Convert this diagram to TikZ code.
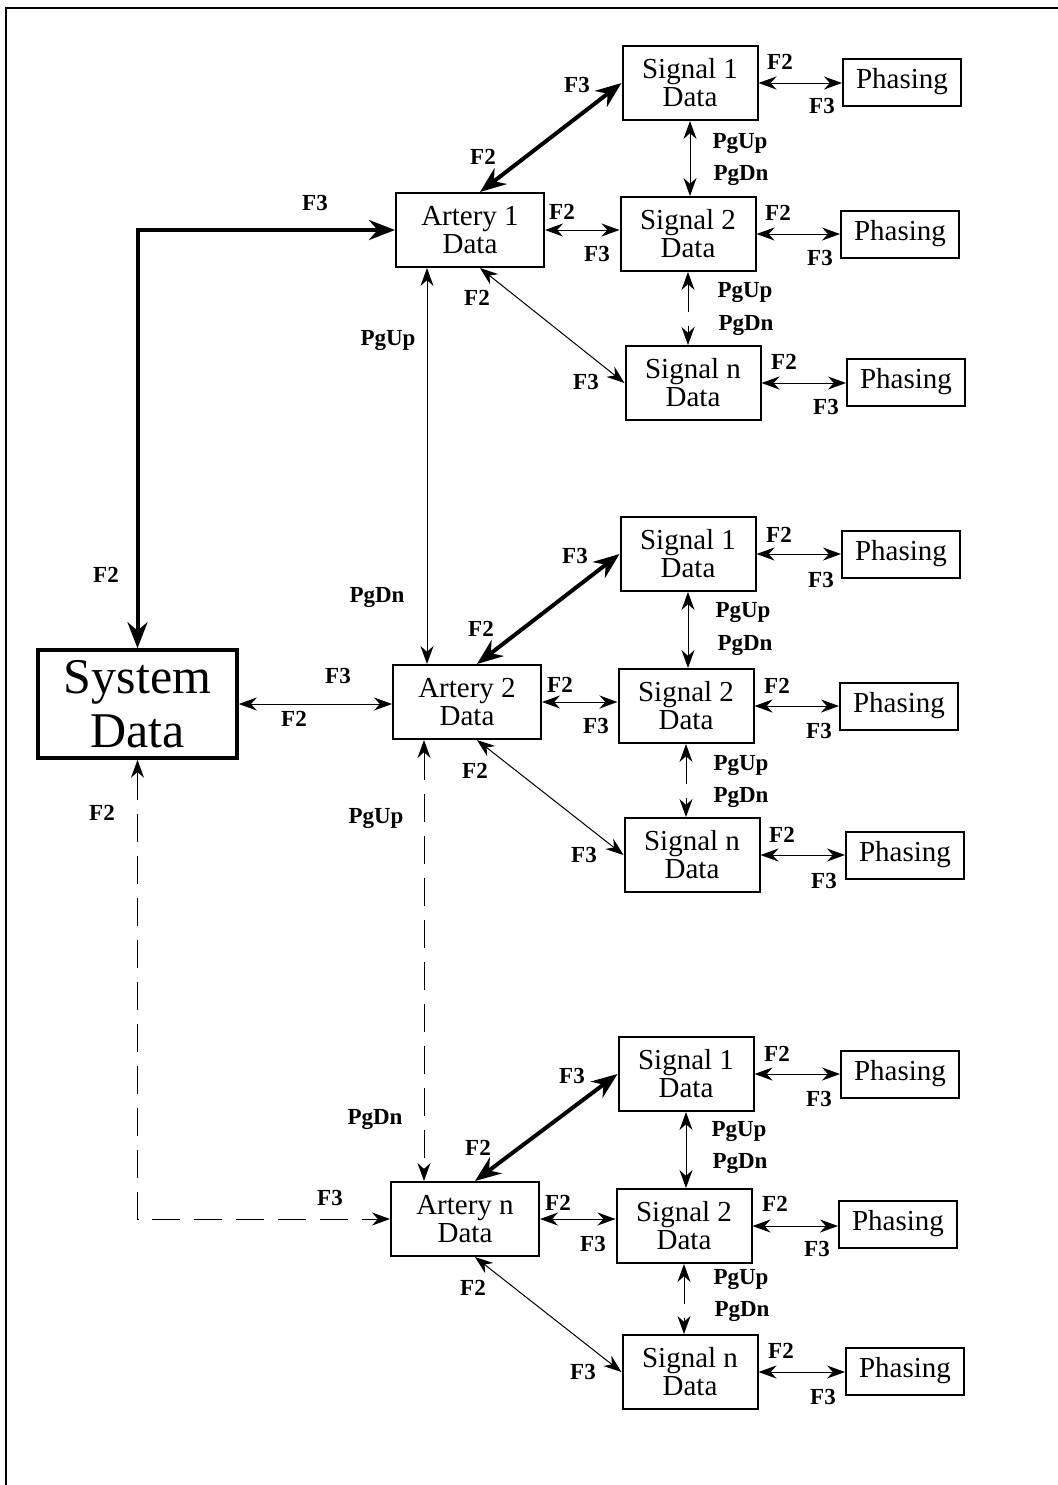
\documentclass[tikz,border=0pt]{standalone}
\usepackage{fontspec}
\setmainfont{Liberation Serif}
\usepackage{tikz}
\usetikzlibrary{arrows.meta, positioning, calc}

\begin{document}
\begin{tikzpicture}[
  x=0.5pt, y=-0.5pt,
  box/.style={draw, line width=1pt, align=center, inner sep=0pt, font=\fontsize{14.5}{14}\selectfont, minimum height=37pt},
  sigbox/.style={box, minimum width=67.5pt},
  artbox/.style={box, minimum width=74pt},
  phbox/.style={box, minimum width=59pt, minimum height=23.5pt},
  sysbox/.style={draw, line width=1.8pt, align=center, inner sep=0pt, minimum width=99.5pt, minimum height=54pt, font=\fontsize{25}{27}\selectfont},
  lbl/.style={inner sep=0pt, font=\bfseries\fontsize{11.5}{12}\selectfont},
  link/.style={{Stealth[length=9pt,width=6.5pt]}-{Stealth[length=9pt,width=6.5pt]}, line width=0.5pt},
  thicklink/.style={{Stealth[length=13pt,width=10pt]}-{Stealth[length=13pt,width=10pt]}, line width=2pt},
  dashlink/.style={link, dash pattern=on 14pt off 7pt}
]
  \useasboundingbox (0,0) rectangle (1058,1485);
  \draw[line width=1pt] (6,1485) -- (6,8) -- (1058,8);

  \node[sysbox] (sys) at (137.5,704) {System\\Data};
  \node[artbox] (art1) at (470,230) {Artery 1\\Data};
  \node[artbox] (art2) at (467,702) {Artery 2\\Data};
  \node[artbox] (artn) at (465,1219) {Artery n\\Data};

  \node[sigbox] (sig11) at (690,83) {Signal 1\\Data};
  \node[sigbox] (sig12) at (688,234) {Signal 2\\Data};
  \node[sigbox] (sig1n) at (693,383) {Signal n\\Data};
  \node[phbox] (ph11) at (902,82) {Phasing};
  \node[phbox] (ph12) at (900,234) {Phasing};
  \node[phbox] (ph1n) at (906,382) {Phasing};

  \node[sigbox] (sig21) at (688,554) {Signal 1\\Data};
  \node[sigbox] (sig22) at (686,706) {Signal 2\\Data};
  \node[sigbox] (sig2n) at (692,855) {Signal n\\Data};
  \node[phbox] (ph21) at (901,554) {Phasing};
  \node[phbox] (ph22) at (899,706) {Phasing};
  \node[phbox] (ph2n) at (905,855) {Phasing};

  \node[sigbox] (sig31) at (686,1074) {Signal 1\\Data};
  \node[sigbox] (sig32) at (684,1226) {Signal 2\\Data};
  \node[sigbox] (sig3n) at (690,1372) {Signal n\\Data};
  \node[phbox] (ph31) at (900,1074) {Phasing};
  \node[phbox] (ph32) at (898,1224) {Phasing};
  \node[phbox] (ph3n) at (905,1371) {Phasing};

  \draw[thicklink] (sys.north) |- (art1.west);
  \draw[link] (sys.east) -- (sys.east -| art2.west);
  \draw[dashlink] (sys.south) |- (artn.west);
  \draw[link] ([xshift=-21.5pt]art1.south) -- ([xshift=-21.5pt]art1.south |- art2.north);
  \draw[dashlink] ([xshift=-21.5pt]art2.south) -- ([xshift=-21.5pt]art2.south |- artn.north);

  \draw[thicklink] ([xshift=5pt]art1.north) -- (sig11.west);
  \draw[link] (art1.east) -- (art1.east -| sig12.west);
  \draw[link] ([xshift=5pt]art1.south) -- (sig1n.west);
  \draw[link] (sig11.south) -- (sig11.south |- sig12.north);
  \draw[dashlink] (sig12.south) -- (sig12.south |- sig1n.north);
  \draw[link] (sig11.east) -- (sig11.east -| ph11.west);
  \draw[link] (sig12.east) -- (sig12.east -| ph12.west);
  \draw[link] (sig1n.east) -- (sig1n.east -| ph1n.west);

  \draw[thicklink] ([xshift=5pt]art2.north) -- (sig21.west);
  \draw[link] (art2.east) -- (art2.east -| sig22.west);
  \draw[link] ([xshift=5pt]art2.south) -- (sig2n.west);
  \draw[link] (sig21.south) -- (sig21.south |- sig22.north);
  \draw[dashlink] (sig22.south) -- (sig22.south |- sig2n.north);
  \draw[link] (sig21.east) -- (sig21.east -| ph21.west);
  \draw[link] (sig22.east) -- (sig22.east -| ph22.west);
  \draw[link] (sig2n.east) -- (sig2n.east -| ph2n.west);

  \draw[thicklink] ([xshift=5pt]artn.north) -- (sig31.west);
  \draw[link] (artn.east) -- (artn.east -| sig32.west);
  \draw[link] ([xshift=5pt]artn.south) -- (sig3n.west);
  \draw[link] (sig31.south) -- (sig31.south |- sig32.north);
  \draw[dashlink] (sig32.south) -- (sig32.south |- sig3n.north);
  \draw[link] (sig31.east) -- (sig31.east -| ph31.west);
  \draw[link] (sig32.east) -- (sig32.east -| ph32.west);
  \draw[link] (sig3n.east) -- (sig3n.east -| ph3n.west);

  \node[lbl] (l1) at (315,203) {F3};
  \node[lbl] (l2) at (106,575) {F2};
  \node[lbl] (l3) at (338,676) {F3};
  \node[lbl] (l4) at (294,719) {F2};
  \node[lbl] (l5) at (102,813) {F2};
  \node[lbl] (l6) at (330,1198) {F3};
  \node[lbl] (l7) at (388,340) {PgUp};
  \node[lbl] (l8) at (377,597) {PgDn};
  \node[lbl] (l9) at (376,818) {PgUp};
  \node[lbl] (l10) at (375,1119) {PgDn};

  \node[lbl] (g1a) at (577,85) {F3};
  \node[lbl] (g1b) at (483,157) {F2};
  \node[lbl] (g1c) at (562,212) {F2};
  \node[lbl] (g1d) at (597,254) {F3};
  \node[lbl] (g1e) at (477,298) {F2};
  \node[lbl] (g1f) at (586,382) {F3};
  \node[lbl] (g1g) at (740,143) {PgUp};
  \node[lbl] (g1h) at (741,175) {PgDn};
  \node[lbl] (g1i) at (745,292) {PgUp};
  \node[lbl] (g1j) at (746,325) {PgDn};
  \node[lbl] (g1k) at (780,62) {F2};
  \node[lbl] (g1l) at (822,106) {F3};
  \node[lbl] (g1m) at (778,213) {F2};
  \node[lbl] (g1n) at (820,258) {F3};
  \node[lbl] (g1o) at (784,362) {F2};
  \node[lbl] (g1p) at (826,407) {F3};

  \node[lbl] (g2a) at (575,556) {F3};
  \node[lbl] (g2b) at (481,629) {F2};
  \node[lbl] (g2c) at (560,685) {F2};
  \node[lbl] (g2d) at (596,726) {F3};
  \node[lbl] (g2e) at (475,771) {F2};
  \node[lbl] (g2f) at (584,855) {F3};
  \node[lbl] (g2g) at (743,612) {PgUp};
  \node[lbl] (g2h) at (745,645) {PgDn};
  \node[lbl] (g2i) at (741,765) {PgUp};
  \node[lbl] (g2j) at (741,797) {PgDn};
  \node[lbl] (g2k) at (779,535) {F2};
  \node[lbl] (g2l) at (821,580) {F3};
  \node[lbl] (g2m) at (777,686) {F2};
  \node[lbl] (g2n) at (819,731) {F3};
  \node[lbl] (g2o) at (782,835) {F2};
  \node[lbl] (g2p) at (824,881) {F3};

  \node[lbl] (g3a) at (572,1076) {F3};
  \node[lbl] (g3b) at (478,1148) {F2};
  \node[lbl] (g3c) at (558,1203) {F2};
  \node[lbl] (g3d) at (593,1244) {F3};
  \node[lbl] (g3e) at (473,1288) {F2};
  \node[lbl] (g3f) at (583,1372) {F3};
  \node[lbl] (g3g) at (739,1131) {PgUp};
  \node[lbl] (g3h) at (740,1163) {PgDn};
  \node[lbl] (g3i) at (741,1279) {PgUp};
  \node[lbl] (g3j) at (742,1311) {PgDn};
  \node[lbl] (g3k) at (777,1054) {F2};
  \node[lbl] (g3l) at (819,1099) {F3};
  \node[lbl] (g3m) at (775,1204) {F2};
  \node[lbl] (g3n) at (817,1249) {F3};
  \node[lbl] (g3o) at (781,1351) {F2};
  \node[lbl] (g3p) at (823,1397) {F3};
\end{tikzpicture}
\end{document}
